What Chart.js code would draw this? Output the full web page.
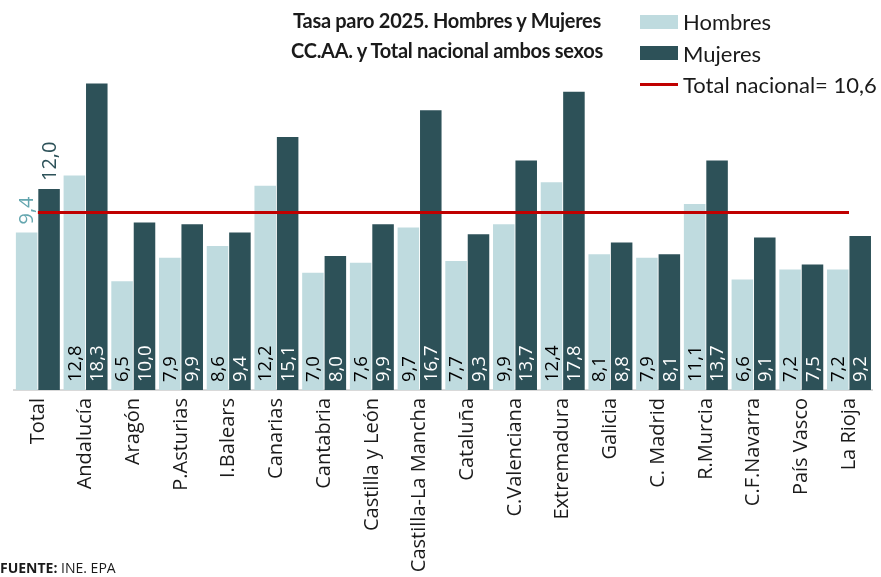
<!DOCTYPE html>
<html>
<head>
<meta charset="utf-8">
<script src="https://cdn.jsdelivr.net/npm/chart.js@4.4.1/dist/chart.umd.min.js"></script>
<style>
    body { margin: 0; background: #fff; }
    #wrap { position: relative; width: 881px; height: 577px; overflow: hidden; }
    #chart { position: absolute; left: 0; top: 0; }
    #title { position: absolute; left: 247px; width: 400px; top: 5px; text-align: center;
             font: bold 20px Lato, sans-serif; line-height: 30px; color: #1a1a1a; letter-spacing: -0.3px; }
    #legend { position: absolute; left: 640px; top: 6px; font: 22px Lato, sans-serif; color: #1a1a1a; }
    #legend div { height: 31.5px; display: flex; align-items: center; white-space: nowrap; }
    #legend span.sw { display: inline-block; width: 38px; margin-right: 5px; }
    #source { position: absolute; left: 0; top: 558px; font: 14px "Open Sans", sans-serif; color: #1a1a1a; }
</style>
</head>
<body>
<div id="wrap">
    <canvas id="chart" width="881" height="577"></canvas>
    <div id="title">Tasa paro 2025. Hombres  y Mujeres<br>CC.AA. y Total nacional ambos sexos</div>
    <div id="legend"></div>
    <div id="source"><b>FUENTE:</b> INE. EPA</div>
</div>
<script>
const regiones = ["Total", "Andalucía", "Aragón", "P.Asturias", "I.Balears", "Canarias", "Cantabria",
    "Castilla y León", "Castilla-La Mancha", "Cataluña", "C.Valenciana", "Extremadura", "Galicia",
    "C. Madrid", "R.Murcia", "C.F.Navarra", "País Vasco", "La Rioja"];
const hombres = [9.4, 12.8, 6.5, 7.9, 8.6, 12.2, 7.0, 7.6, 9.7, 7.7, 9.9, 12.4, 8.1, 7.9, 11.1, 6.6, 7.2, 7.2];
const mujeres = [12.0, 18.3, 10.0, 9.9, 9.4, 15.1, 8.0, 9.9, 16.7, 9.3, 13.7, 17.8, 8.8, 8.1, 13.7, 9.1, 7.5, 9.2];
const totalNacional = 10.6;

const colHombres = "#bfdbdf";
const colMujeres = "#2d5158";
const colTotal = "#c00000";

const fmt = v => v.toFixed(1).replace(".", ",");

// etiquetas de valor giradas
const valueLabels = {
    id: "valueLabels",
    afterDatasetsDraw(chart) {
        const ctx = chart.ctx;
        const bottom = chart.chartArea.bottom;
        ctx.save();
        ctx.textAlign = "left";
        ctx.textBaseline = "middle";
        [0, 1].forEach(d => {
            const meta = chart.getDatasetMeta(d);
            const values = chart.data.datasets[d].data;
            meta.data.forEach((bar, i) => {
                let y;
                if (i == 0) {
                    ctx.font = "20px 'Open Sans'";
                    ctx.fillStyle = d == 0 ? "#64a6af" : "#2d5259";
                    y = bar.y - 8;
                } else {
                    ctx.font = "18.5px 'Open Sans'";
                    ctx.fillStyle = d == 0 ? "#000" : "#fff";
                    y = bottom - 8;
                }
                ctx.save();
                ctx.translate(bar.x + 1, y);
                ctx.rotate(-Math.PI / 2);
                ctx.fillText(fmt(values[i]), 0, 0);
                ctx.restore();
            });
        });
        ctx.restore();
    }
};

const chart = new Chart(document.getElementById("chart"), {
    data: {
        labels: regiones,
        datasets: [
            {
                type: "bar",
                label: "Hombres",
                data: hombres,
                backgroundColor: colHombres,
                categoryPercentage: 0.94,
                barPercentage: 0.96,
                order: 1
            },
            {
                type: "bar",
                label: "Mujeres",
                data: mujeres,
                backgroundColor: colMujeres,
                categoryPercentage: 0.94,
                barPercentage: 0.96,
                order: 1
            },
            {
                type: "line",
                label: "Total nacional= " + fmt(totalNacional),
                data: regiones.map(() => totalNacional),
                borderColor: colTotal,
                borderWidth: 3,
                pointRadius: 0,
                order: 0
            }
        ]
    },
    options: {
        responsive: false,
        animation: false,
        layout: { padding: { left: 14, right: 0, top: 55, bottom: 0 } },
        plugins: {
            legend: { display: false },
            tooltip: { enabled: false }
        },
        scales: {
            x: {
                grid: { display: false, drawTicks: false },
                border: { display: true, color: "#d9d9d9", width: 2 },
                ticks: {
                    color: "#1a1a1a",
                    font: { family: "Open Sans", size: 20 },
                    minRotation: 90,
                    maxRotation: 90,
                    autoSkip: false,
                    padding: 8
                },
                afterFit: s => { s.height = 187; }
            },
            y: {
                display: false,
                min: 0,
                max: 20
            }
        }
    },
    plugins: [valueLabels]
});

// leyenda en html
const legend = document.getElementById("legend");
chart.data.datasets.forEach(ds => {
    const row = document.createElement("div");
    const sw = document.createElement("span");
    sw.className = "sw";
    if (ds.type == "line") {
        sw.style.height = "3px";
        sw.style.background = ds.borderColor;
    } else {
        sw.style.height = "14px";
        sw.style.background = ds.backgroundColor;
    }
    row.appendChild(sw);
    row.appendChild(document.createTextNode(ds.label));
    legend.appendChild(row);
});
</script>
</body>
</html>
